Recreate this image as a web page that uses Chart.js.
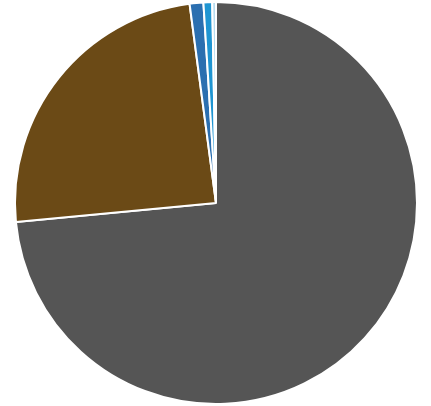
<!DOCTYPE html>
<html>
<head>
<meta charset="utf-8">
<script src="https://cdn.jsdelivr.net/npm/chart.js@4"></script>
<style>
  html, body { margin: 0; padding: 0; background: #fff; }
  #wrap { width: 431px; height: 406px; }
</style>
</head>
<body>
<div id="wrap"><canvas id="pieChart" width="431" height="406"></canvas></div>
<script>
  const labels = ['A', 'B', 'C', 'D', 'E'];
  const shares = [73.5, 24.4, 1.1, 0.7, 0.3];
  const colors = ['#555555', '#6b4a16', '#2b6fb0', '#1f95d2', '#b7dcf0'];

  const ctx = document.getElementById('pieChart').getContext('2d');
  const pieChart = new Chart(ctx, {
    type: 'pie',
    data: {
      labels: labels,
      datasets: [{
        data: shares,
        backgroundColor: colors,
        borderColor: '#ffffff',
        borderWidth: 2
      }]
    },
    options: {
      responsive: false,
      animation: false,
      layout: { padding: { top: 1, bottom: 1, left: 1 } },
      plugins: {
        legend: { display: false },
        tooltip: { enabled: false }
      }
    }
  });
</script>
</body>
</html>
